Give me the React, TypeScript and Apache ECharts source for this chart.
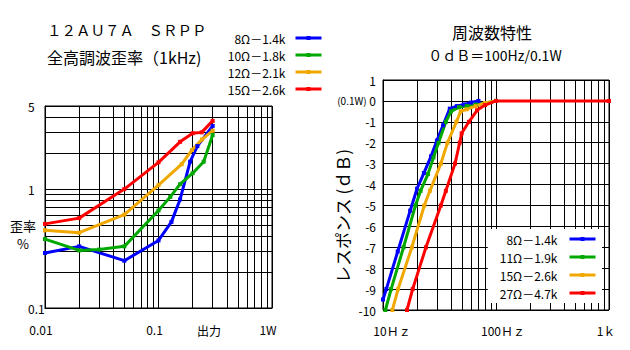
import React, { useEffect, useRef } from "react";
import * as echarts from "echarts";

// ---- Left chart: THD vs output (log/log) ----
const thdNames = ["8Ω－1.4k", "10Ω－1.8k", "12Ω－2.1k", "15Ω－2.6k"];
const thd8X = [0.01, 0.02, 0.05, 0.1, 0.13, 0.155, 0.19, 0.22, 0.3];
const thd8Y = [0.29, 0.33, 0.25, 0.37, 0.53, 0.82, 1.7, 2.3, 3.4];
const thd10X = [0.01, 0.02, 0.03, 0.05, 0.1, 0.127, 0.155, 0.2, 0.25, 0.3];
const thd10Y = [0.38, 0.305, 0.31, 0.33, 0.66, 0.86, 1.1, 1.36, 1.7, 2.85];
const thd12X = [0.01, 0.02, 0.05, 0.1, 0.16, 0.197, 0.242, 0.3];
const thd12Y = [0.45, 0.43, 0.61, 1.08, 1.62, 2.13, 2.62, 3.1];
const thd15X = [0.01, 0.02, 0.05, 0.1, 0.155, 0.2, 0.24, 0.3];
const thd15Y = [0.51, 0.57, 1.0, 1.68, 2.5, 2.95, 3.0, 3.75];
const thdMinorX = [0.02, 0.03, 0.04, 0.05, 0.06, 0.07, 0.08, 0.09, 0.2, 0.3, 0.4, 0.5, 0.6, 0.7, 0.8, 0.9];
const thdMinorY = [0.2, 0.3, 0.4, 0.5, 0.6, 0.7, 0.8, 0.9, 2, 3, 4];

// ---- Right chart: frequency response ----
const frNames = ["8Ω－1.4k", "11Ω－1.9k", "15Ω－2.6k", "27Ω－4.7k"];
const fr8F = [10, 10.7, 13.5, 17.4, 20, 23, 26.6, 30, 34, 39, 45, 52, 60, 70];
const fr8Db = [-9.5, -9, -7.2, -5.25, -4.2, -3.45, -2.65, -1.9, -1.17, -0.37, -0.25, -0.17, -0.08, 0];
const fr11F = [10.5, 11.8, 15.2, 19.4, 21.5, 25, 28, 31, 36, 40, 47, 55, 66, 80, 100];
const fr11Db = [-10, -9, -7, -5, -4.3, -3.5, -2.7, -2, -1, -0.5, -0.3, -0.25, -0.18, -0.1, 0];
const fr15F = [12.1, 13.6, 18, 23.2, 26, 32.5, 37.2, 44.6, 48.7, 55, 66, 80, 100];
const fr15Db = [-10, -9, -7, -5, -4.3, -3, -2, -1, -0.5, -0.4, -0.25, -0.1, 0];
const fr27F = [16.3, 18.3, 24, 32.5, 36, 43.4, 47.7, 49.7, 57.6, 68, 80, 100, 1000];
const fr27Db = [-10, -9, -7, -5, -4.3, -3, -2, -1.55, -1, -0.45, -0.2, 0, 0];
const frMinorX = [20, 30, 40, 50, 60, 70, 80, 90, 200, 300, 400, 500, 600, 700, 800, 900];

const colors = ["#0000ff", "#00a800", "#f0a800", "#ff0000"];
const FONT = "'Noto Sans CJK JP', 'Noto Sans', sans-serif";

const zip = (xs: number[], ys: number[]) => xs.map((x, i) => [x, ys[i]]);

export default function App() {
  const ref = useRef<HTMLDivElement>(null);
  useEffect(() => {
    if (!ref.current) return;
    const chart = echarts.init(ref.current, null, { renderer: "svg" });

    const gridLine = { color: "#000", width: 1, type: "solid" as const };
    const minorSeries = (xi: number, xs: number[], ys: number[]) => ({
      type: "line",
      name: "grid" + xi,
      xAxisIndex: xi,
      yAxisIndex: xi,
      data: [],
      silent: true,
      z: 1,
      markLine: {
        silent: true,
        symbol: ["none", "none"],
        label: { show: false },
        lineStyle: gridLine,
        emphasis: { disabled: true },
        animation: false,
        data: [...xs.map((v) => ({ xAxis: v })), ...ys.map((v) => ({ yAxis: v }))],
      },
    });

    const dataSeries = (name: string, xi: number, pts: number[][], color: string) => ({
      type: "line",
      name,
      xAxisIndex: xi,
      yAxisIndex: xi,
      data: pts,
      z: 10,
      symbol: "rect",
      symbolSize: 4,
      showAllSymbol: true,
      lineStyle: { color, width: 3 },
      itemStyle: { color },
      emphasis: { disabled: true },
    });

    const legendItems = (names: string[]) =>
      names.map((name, i) => ({
        name,
        itemStyle: { color: colors[i] },
        lineStyle: { color: colors[i], width: 3 },
      }));

    const txt = (text: string, x: number, y: number, size: number, align = "left", rotation = 0) => ({
      type: "text",
      x,
      y,
      rotation,
      silent: true,
      style: { text, fontSize: size, fontFamily: FONT, fill: "#000", align, verticalAlign: "middle" },
    });

    chart.setOption({
      animation: false,
      backgroundColor: "#fff",
      textStyle: { fontFamily: FONT, color: "#000" },
      grid: [
        { left: 45, top: 106, width: 227, height: 202, show: true, borderColor: "#000", borderWidth: 1 },
        { left: 383, top: 80, width: 226, height: 230, show: true, borderColor: "#000", borderWidth: 1 },
      ],
      xAxis: [
        {
          type: "log", gridIndex: 0, min: 0.01, max: 1, logBase: 10,
          axisLine: { show: true, lineStyle: { color: "#000" } },
          axisTick: { show: false },
          splitLine: { show: true, lineStyle: gridLine },
          axisLabel: {
            color: "#000", fontSize: 12, fontFamily: FONT, margin: 15, padding: [0, 8, 0, 0],
            formatter: (v: number) => (v < 0.05 ? "0.01" : v < 0.5 ? "0.1" : "1W"),
          },
        },
        {
          type: "log", gridIndex: 1, min: 10, max: 1000, logBase: 10,
          axisLine: { show: true, lineStyle: { color: "#000" } },
          axisTick: { show: false },
          splitLine: { show: true, lineStyle: gridLine },
          axisLabel: {
            color: "#000", fontSize: 12, fontFamily: FONT, margin: 14,
            formatter: (v: number) => (v < 50 ? "{a|10Ｈｚ}" : v < 500 ? "{b|100Ｈｚ}" : "{c|1ｋ}"),
            rich: {
              a: { fontSize: 12, fontFamily: FONT, color: "#000", padding: [0, 0, 0, 18] },
              b: { fontSize: 12, fontFamily: FONT, color: "#000", padding: [0, 0, 0, 14] },
              c: { fontSize: 12, fontFamily: FONT, color: "#000", padding: [0, 6, 0, 0] },
            },
          },
        },
      ],
      yAxis: [
        {
          type: "log", gridIndex: 0, min: 0.1, max: 5, logBase: 10,
          axisLine: { show: true, lineStyle: { color: "#000" } },
          axisTick: { show: false },
          splitLine: { show: true, lineStyle: gridLine },
          axisLabel: {
            color: "#000", fontSize: 12, fontFamily: FONT, margin: 17, align: "left",
            formatter: (v: number) => (v < 0.5 ? "0.1" : v < 2 ? "1" : "5"),
          },
        },
        {
          type: "value", gridIndex: 1, min: -10, max: 1, interval: 1,
          axisLine: { show: true, lineStyle: { color: "#000" } },
          axisTick: { show: false },
          splitLine: { show: true, lineStyle: gridLine },
          axisLabel: {
            color: "#000", fontSize: 12, fontFamily: FONT, margin: 7,
            formatter: (v: number) => (v === 0 ? "{s|(0.1W)} 0" : String(v)),
            rich: { s: { fontSize: 10, fontFamily: FONT, color: "#000" } },
          },
        },
      ],
      legend: [
        {
          orient: "vertical", align: "right", right: 307, top: 31, padding: 0,
          itemWidth: 26, itemHeight: 5, itemGap: 3,
          data: legendItems(thdNames),
          textStyle: { fontSize: 12, fontFamily: FONT, color: "#000", lineHeight: 14, padding: [0, 5, 0, 0] },
          selectedMode: false,
        },
        {
          orient: "vertical", align: "right", right: 28, top: 229,
          padding: [3, 5, 3, 12], backgroundColor: "#fff",
          itemWidth: 26, itemHeight: 5, itemGap: 4,
          data: legendItems(frNames),
          textStyle: { fontSize: 12, fontFamily: FONT, color: "#000", lineHeight: 14, padding: [0, 7, 0, 0] },
          selectedMode: false,
          z: 20,
        },
      ],
      graphic: [
        txt("１２ＡＵ７Ａ　ＳＲＰＰ", 47, 29, 14.5),
        txt("全高調波歪率（1kHz)", 47, 57, 16),
        txt("周波数特性", 492, 32, 16, "center"),
        txt("０ｄＢ＝100Hz/0.1W", 495, 55, 14, "center"),
        txt("歪率", 23, 225, 13, "center"),
        txt("%", 23, 243, 13, "center"),
        txt("出力", 209, 330, 12, "center"),
        txt("レスポンス (ｄＢ)", 342, 216, 17, "center", Math.PI / 2),
      ],
      series: [
        minorSeries(0, thdMinorX, thdMinorY),
        minorSeries(1, frMinorX, []),
        dataSeries(thdNames[0], 0, zip(thd8X, thd8Y), colors[0]),
        dataSeries(thdNames[1], 0, zip(thd10X, thd10Y), colors[1]),
        dataSeries(thdNames[2], 0, zip(thd12X, thd12Y), colors[2]),
        dataSeries(thdNames[3], 0, zip(thd15X, thd15Y), colors[3]),
        dataSeries(frNames[0], 1, zip(fr8F, fr8Db), colors[0]),
        dataSeries(frNames[1], 1, zip(fr11F, fr11Db), colors[1]),
        dataSeries(frNames[2], 1, zip(fr15F, fr15Db), colors[2]),
        dataSeries(frNames[3], 1, zip(fr27F, fr27Db), colors[3]),
      ],
    });
    return () => chart.dispose();
  }, []);
  return (
    <div
      ref={ref}
      style={{ position: "fixed", left: 0, top: 0, width: 630, height: 350, background: "#fff" }}
    />
  );
}
